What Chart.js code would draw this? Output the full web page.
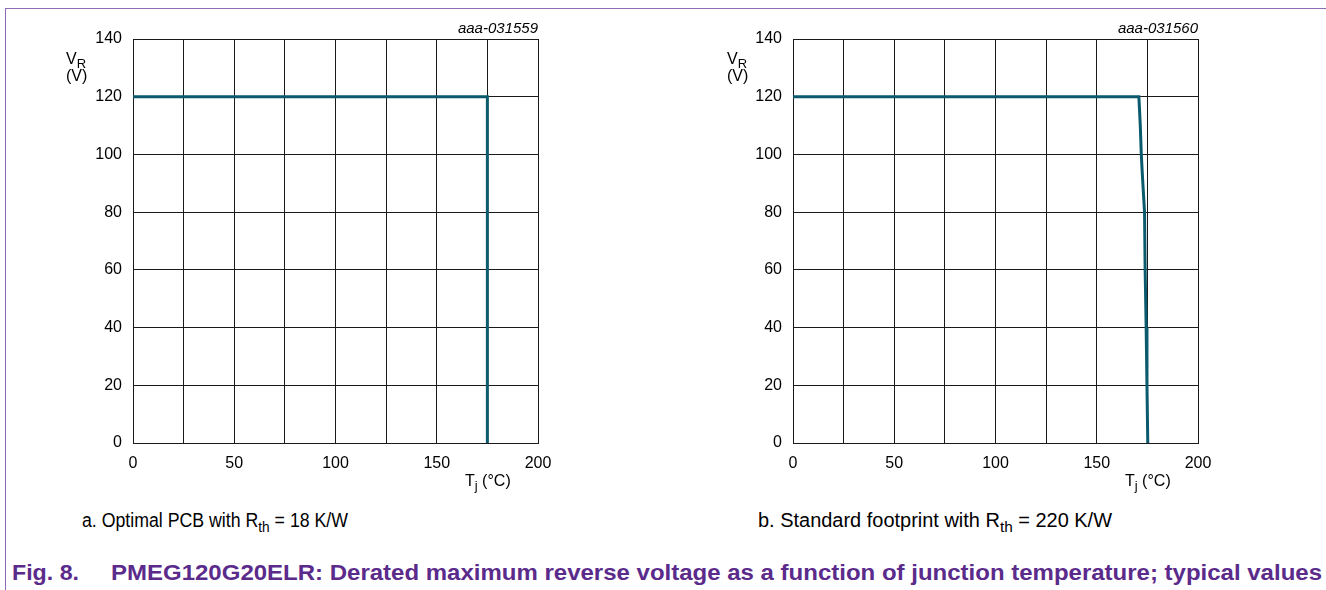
<!DOCTYPE html>
<html>
<head>
<meta charset="utf-8">
<script src="https://cdn.jsdelivr.net/npm/chart.js@4/dist/chart.umd.min.js"></script>
<style>
  html, body { margin: 0; padding: 0; background: #fff; }
  body { width: 1326px; height: 590px; position: relative; overflow: hidden; font-family: "Liberation Sans", Arial, sans-serif; color: #000; }
  canvas { position: absolute; top: 0; }
  .t { position: absolute; white-space: nowrap; line-height: 1; transform-origin: 0 50%; }
  .ax { font-size: 16px; }
  .ax sub { font-size: 13px; vertical-align: -4px; line-height: 0; }
  .id { font-size: 15px; font-style: italic; }
  .sub { font-size: 19.5px; }
  .sub sub { font-size: 15px; vertical-align: -5px; line-height: 0; }
  .cap { font-size: 22px; font-weight: bold; color: #5b2b8c; }
  #topline { position: absolute; left: 5px; top: 8px; width: 1321px; height: 1px; background: #8e6bb5; }
  #leftline { position: absolute; left: 5px; top: 8px; width: 1px; height: 582px; background: #8e6bb5; }
</style>
</head>
<body>
<div id="topline"></div>
<div id="leftline"></div>
<canvas id="c1" width="663" height="500" style="left:0px"></canvas>
<canvas id="c2" width="663" height="500" style="left:663px"></canvas>

<div class="t ax" style="left:66px; top:50px; line-height:17px;">V<sub>R</sub><br>(V)</div>
<div class="t ax" style="left:727px; top:50px; line-height:17px;">V<sub>R</sub><br>(V)</div>
<div class="t ax" style="left:465px; top:473px;">T<sub>j</sub> (°C)</div>
<div class="t ax" style="left:1125px; top:473px;">T<sub>j</sub> (°C)</div>
<div class="t id" style="right:788px; top:20px;">aaa-031559</div>
<div class="t id" style="right:128px; top:20px;">aaa-031560</div>
<div class="t sub" id="suba" style="left:82px; top:511px;">a. Optimal PCB with R<sub>th</sub> = 18 K/W</div>
<div class="t sub" id="subb" style="left:758px; top:511px;">b. Standard footprint with R<sub>th</sub> = 220 K/W</div>
<div class="t cap" id="capfig" style="left:12px; top:562px;">Fig. 8.</div>
<div class="t cap" id="captext" style="left:111px; top:562px;">PMEG120G20ELR: Derated maximum reverse voltage as a function of junction temperature; typical values</div>

<script>
// ---- data ----
const xTickLabels = [0, 50, 100, 150, 200];
const yTickLabels = [0, 20, 40, 60, 80, 100, 120, 140];
const optimalTj = [0, 175, 175];
const optimalVR = [120, 120, 0];
const standardTj = [0, 170.8, 171.5, 172.0, 172.6, 173.6, 173.9, 174.4, 174.8, 175.2];
const standardVR = [120, 120, 110, 100, 92, 80, 60, 40, 20, 0];

const FONT = { family: '"Liberation Sans", Arial, sans-serif', size: 16 };
const LINE = '#0b5a6e';
const GRID = '#1a1a1a';

// fit text blocks to the widths they occupy in the reference
function fitWidth(id, target) {
  const el = document.getElementById(id);
  const w = el.getBoundingClientRect().width;
  el.style.transform = 'scaleX(' + (target / w) + ')';
}
fitWidth('capfig', 67);
fitWidth('captext', 1211);
fitWidth('suba', 266);
fitWidth('subb', 354);

function pts(xs, ys) { return xs.map((x, i) => ({ x: x, y: ys[i] })); }

function makeChart(id, xs, ys, yAxisWidth, padRight) {
  return new Chart(document.getElementById(id), {
    type: 'scatter',
    data: {
      datasets: [{
        data: pts(xs, ys),
        showLine: true,
        borderColor: LINE,
        backgroundColor: LINE,
        borderWidth: 3,
        pointRadius: 0,
        tension: 0,
        borderJoinStyle: 'miter'
      }]
    },
    options: {
      responsive: false,
      devicePixelRatio: 1,
      animation: false,
      plugins: { legend: { display: false }, tooltip: { enabled: false } },
      layout: { padding: { top: 39, right: padRight, bottom: 17, left: 0 } },
      scales: {
        x: {
          type: 'linear', min: 0, max: 200,
          afterFit: s => { s.height = 40; },
          afterBuildTicks: s => {
            const t = [];
            for (let v = 0; v <= 200; v += 25) t.push({ value: v });
            s.ticks = t;
          },
          ticks: {
            color: '#000', font: FONT, padding: 11, maxRotation: 0, autoSkip: false,
            callback: v => xTickLabels.includes(v) ? String(v) : ''
          },
          grid: { color: GRID, lineWidth: 1, drawTicks: false },
          border: { color: GRID, width: 1 }
        },
        y: {
          type: 'linear', min: 0, max: 140,
          afterFit: s => { s.width = yAxisWidth; },
          afterBuildTicks: s => { s.ticks = yTickLabels.map(v => ({ value: v })); },
          ticks: { color: '#000', font: FONT, padding: 11, autoSkip: false },
          grid: { color: GRID, lineWidth: 1, drawTicks: false },
          border: { color: GRID, width: 1 }
        }
      }
    }
  });
}

makeChart('c1', optimalTj, optimalVR, 133, 125);
makeChart('c2', standardTj, standardVR, 130, 128);
</script>
</body>
</html>
